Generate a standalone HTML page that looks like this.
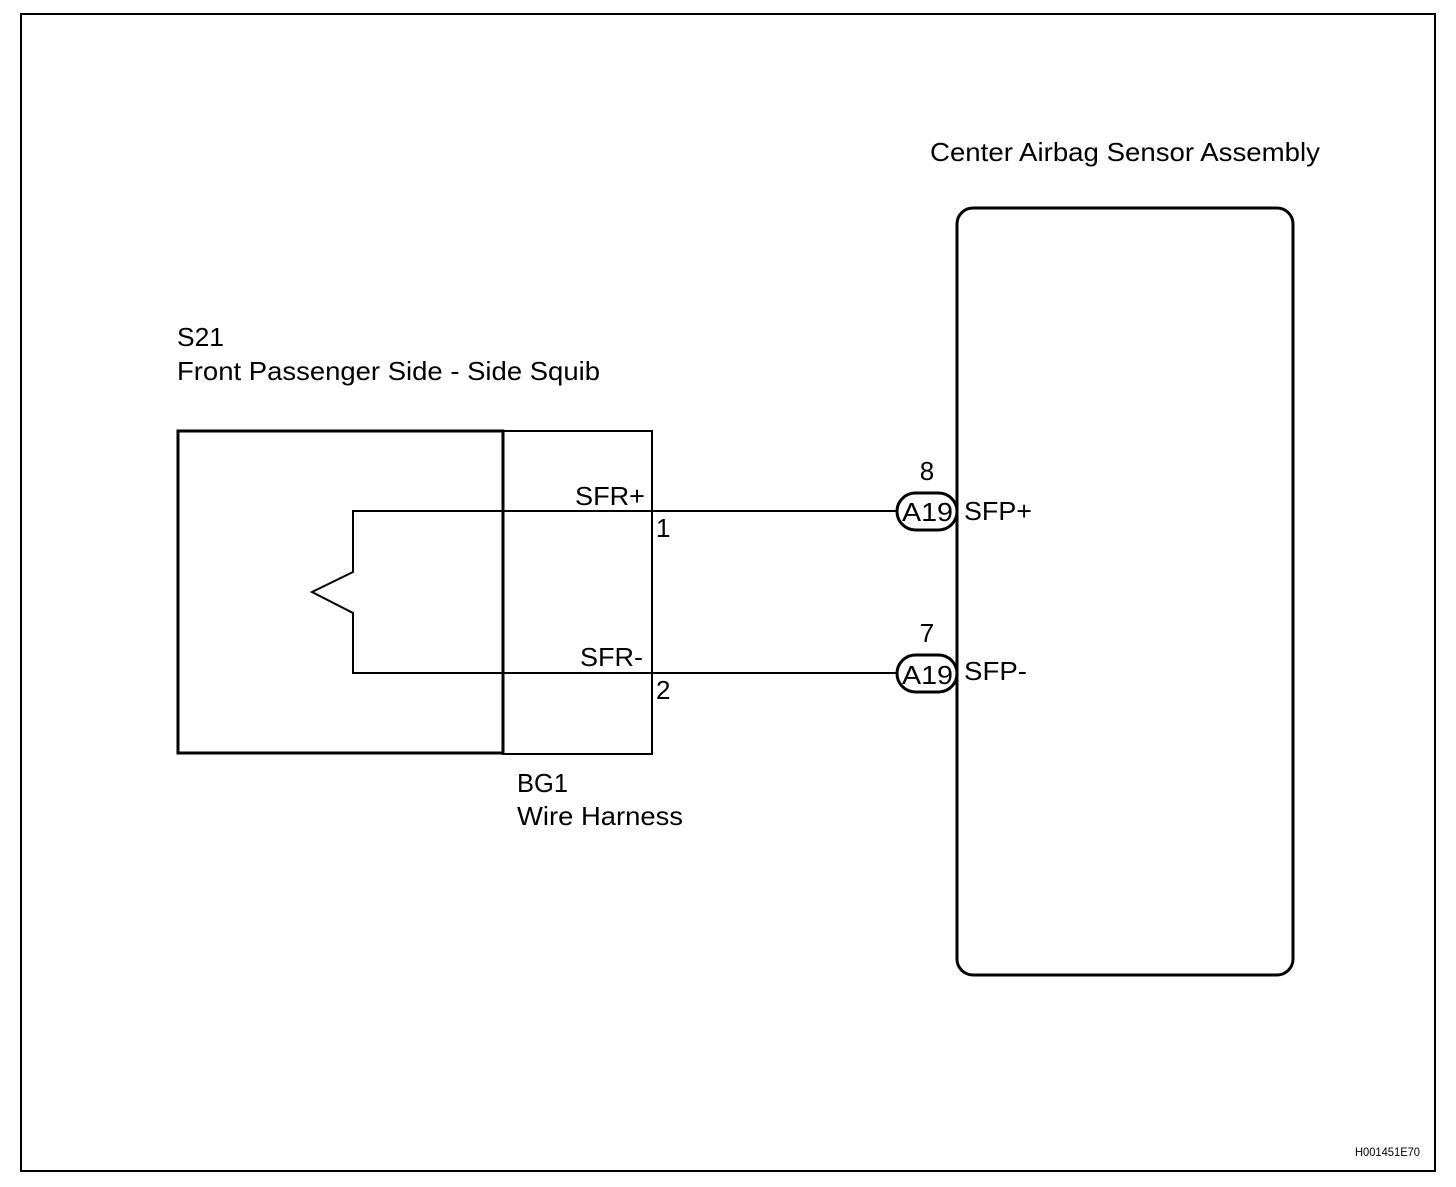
<!DOCTYPE html>
<html><head><style>body{margin:0;background:#fff}</style></head><body>
<svg width="1456" height="1182" xmlns="http://www.w3.org/2000/svg" font-family="Liberation Sans, sans-serif" font-size="26">
<rect x="21" y="14" width="1414" height="1157" fill="none" stroke="#000" stroke-width="2"/>
<text x="930" y="161" textLength="390" lengthAdjust="spacingAndGlyphs">Center Airbag Sensor Assembly</text>
<rect x="957" y="208" width="336" height="767" rx="16" fill="none" stroke="#000" stroke-width="3"/>
<text x="177" y="346" textLength="47" lengthAdjust="spacingAndGlyphs">S21</text>
<text x="177" y="380" textLength="423" lengthAdjust="spacingAndGlyphs">Front Passenger Side - Side Squib</text>
<rect x="178" y="431" width="325" height="322" fill="none" stroke="#000" stroke-width="3"/>
<rect x="503" y="431" width="149" height="323" fill="none" stroke="#000" stroke-width="2"/>
<polyline points="897,511 353,511 353,572 312,592 353,613 353,673 897,673" fill="none" stroke="#000" stroke-width="2"/>
<text x="575" y="505" textLength="70" lengthAdjust="spacingAndGlyphs">SFR+</text>
<text x="580" y="666" textLength="63" lengthAdjust="spacingAndGlyphs">SFR-</text>
<text x="656" y="537">1</text>
<text x="656" y="699">2</text>
<text x="517" y="792" textLength="51" lengthAdjust="spacingAndGlyphs">BG1</text>
<text x="517" y="825" textLength="166" lengthAdjust="spacingAndGlyphs">Wire Harness</text>
<rect x="897" y="493" width="60" height="37" rx="18.5" fill="#fff" stroke="#000" stroke-width="3"/>
<rect x="897" y="655" width="60" height="37" rx="18.5" fill="#fff" stroke="#000" stroke-width="3"/>
<text x="902" y="521" textLength="51" lengthAdjust="spacingAndGlyphs">A19</text>
<text x="902" y="684" textLength="51" lengthAdjust="spacingAndGlyphs">A19</text>
<text x="927" y="480" text-anchor="middle">8</text>
<text x="927" y="642" text-anchor="middle">7</text>
<text x="964" y="520" textLength="68" lengthAdjust="spacingAndGlyphs">SFP+</text>
<text x="964" y="680" textLength="63" lengthAdjust="spacingAndGlyphs">SFP-</text>
<text x="1355" y="1156" font-size="12" textLength="65" lengthAdjust="spacingAndGlyphs">H001451E70</text>
</svg>
</body></html>
